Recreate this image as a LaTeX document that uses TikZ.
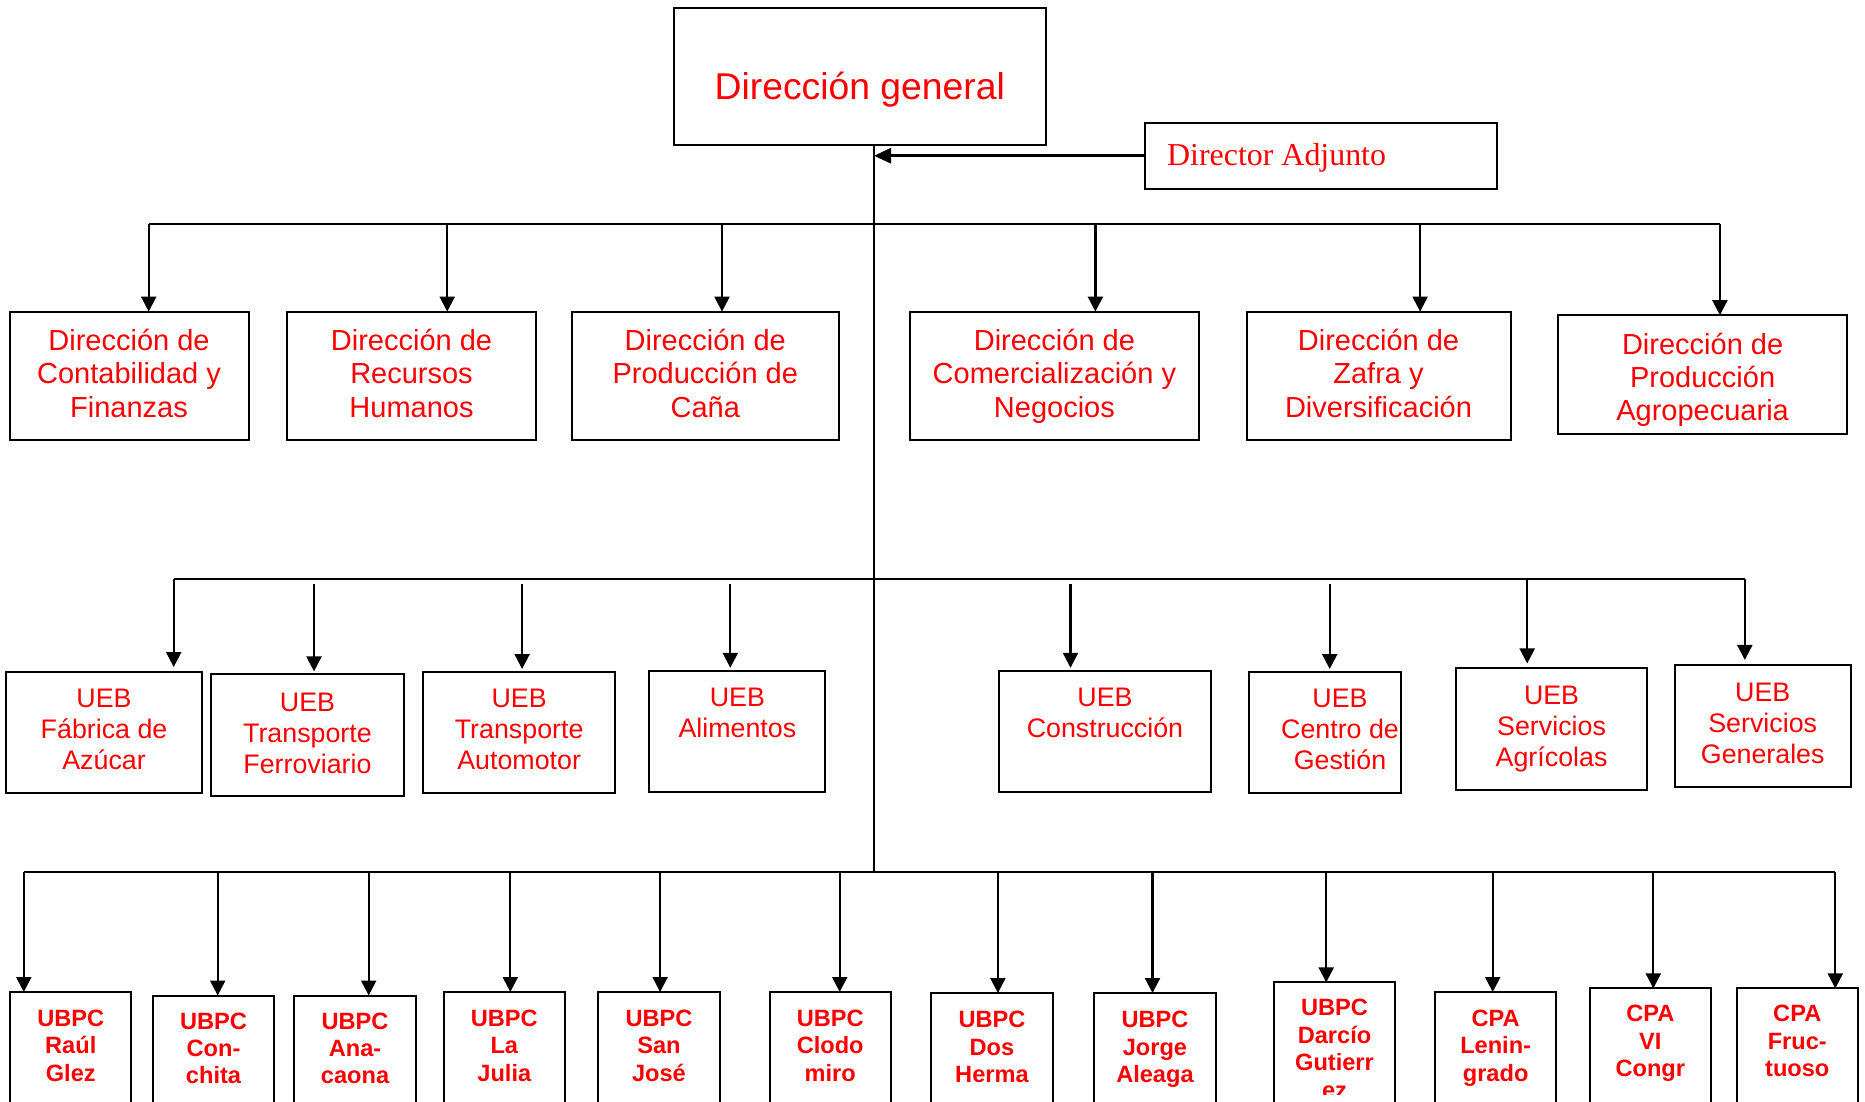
\documentclass[tikz,border=0pt]{standalone}
\usepackage{fontspec}
\setmainfont{Liberation Sans}
\newfontfamily\serifDA{Liberation Serif}
\usetikzlibrary{arrows.meta,calc}
\definecolor{txtred}{RGB}{255,0,0}
\begin{document}
\begin{tikzpicture}[x=1pt,y=-1pt,
  boxs/.style={draw=black,line width=2pt,inner sep=0pt,outer sep=0pt},
  t0/.style={text=txtred,font=\fontsize{37.3}{43}\selectfont,inner sep=0pt,anchor=base},
  t1/.style={text=txtred,font=\fontsize{29}{33.4}\selectfont,align=center,inner sep=0pt,anchor=base},
  t2/.style={text=txtred,font=\fontsize{26.8}{31}\selectfont,align=center,inner sep=0pt,anchor=base},
  t3/.style={text=txtred,font=\bfseries\fontsize{23.6}{27.4}\selectfont,align=center,inner sep=0pt,anchor=base},
  conn/.style={line width=2.2pt},
  arr/.style={line width=2.2pt,-{Triangle[length=15pt,width=15pt]}},
]
\useasboundingbox (0,0) rectangle (1865,1101);
\clip (0,0) rectangle (1865,1101);

% top
\node[boxs,minimum width=371.5pt,minimum height=136.7pt] (dg) at (859.75,76.65) {};
\node[t0] (dgt) at (859.75,99) {Dirección general};
\node[boxs,minimum width=352pt,minimum height=66.5pt] (da) at (1321,155.75) {};
\node[text=txtred,font=\serifDA\fontsize{31.9}{36}\selectfont,inner sep=0pt,anchor=base west] (dat) at (1167,165) {Director Adjunto};

% row 1 (text anchored at baseline of last line)
\node[boxs,minimum width=239.1pt,minimum height=128.4pt] (d1) at (129.05,375.8) {};
\node[boxs,minimum width=249.8pt,minimum height=128.4pt] (d2) at (411.5,375.8) {};
\node[boxs,minimum width=266.4pt,minimum height=128.4pt] (d3) at (705.3,375.8) {};
\node[boxs,minimum width=289pt,minimum height=128.4pt] (d4) at (1054.4,375.8) {};
\node[boxs,minimum width=264pt,minimum height=128.4pt] (d5) at (1378.5,375.8) {};
\node[boxs,minimum width=289pt,minimum height=118.9pt] (d6) at (1702.6,374.65) {};
\node[t1] (d1t) at (129.05,417.2) {Dirección de\\Contabilidad y\\Finanzas};
\node[t1] (d2t) at (411.5,417.2) {Dirección de\\Recursos\\Humanos};
\node[t1] (d3t) at (705.3,417.2) {Dirección de\\Producción de\\Caña};
\node[t1] (d4t) at (1054.4,417.2) {Dirección de\\Comercialización y\\Negocios};
\node[t1] (d5t) at (1378.5,417.2) {Dirección de\\Zafra y\\Diversificación};
\node[t1] (d6t) at (1702.6,420.9) {Dirección de\\Producción\\Agropecuaria};

% row 2
\node[boxs,minimum width=196.3pt,minimum height=121.3pt] (u1) at (104.05,732.65) {};
\node[boxs,minimum width=193.9pt,minimum height=121.3pt] (u2) at (307.45,735.05) {};
\node[boxs,minimum width=191.5pt,minimum height=121.3pt] (u3) at (519.15,732.65) {};
\node[boxs,minimum width=176pt,minimum height=121.3pt] (u4) at (737.4,731.45) {};
\node[boxs,minimum width=211.7pt,minimum height=121.3pt] (u5) at (1104.95,731.45) {};
\node[boxs,minimum width=152.2pt,minimum height=121.3pt] (u6) at (1325,732.65) {};
\node[boxs,minimum width=191.5pt,minimum height=121.3pt] (u7) at (1551.55,729.1) {};
\node[boxs,minimum width=176pt,minimum height=122.5pt] (u8) at (1762.7,726.15) {};
\node[t2] (u1t) at (104.05,769.8) {UEB\\Fábrica de\\Azúcar};
\node[t2] (u2t) at (307.45,773.3) {UEB\\Transporte\\Ferroviario};
\node[t2] (u3t) at (519.15,769.8) {UEB\\Transporte\\Automotor};
\node[t2] (u4t) at (737.4,737.6) {UEB\\Alimentos};
\node[t2] (u5t) at (1104.95,737.6) {UEB\\Construcción};
\node[t2] (u6t) at (1340,769.8) {UEB\\Centro de\\Gestión};
\node[t2] (u7t) at (1551.55,766.2) {UEB\\Servicios\\Agrícolas};
\node[t2] (u8t) at (1762.7,763.8) {UEB\\Servicios\\Generales};

% row 3
\foreach \n/\cx/\top in {p1/70.75/992, p2/213.5/995.5, p3/355.05/995.5, p4/504.3/992, p5/658.95/992, p6/830.2/992, p7/991.95/993, p8/1154.95/993, p9/1334.5/982.4, p10/1495.65/992, p11/1650.3/988.4, p12/1797.25/988.4}{
  \node[boxs,minimum width=121.3pt,minimum height={1150pt-\top pt}] (\n) at (\cx,{(\top+1150)/2}) {};
}
\node[t3] (p1t) at (70.75,1081.3) {UBPC\\Raúl\\Glez};
\node[t3] (p2t) at (213.5,1083.8) {UBPC\\Con-\\chita};
\node[t3] (p3t) at (355.05,1083.8) {UBPC\\Ana-\\caona};
\node[t3] (p4t) at (504.3,1081.3) {UBPC\\La\\Julia};
\node[t3] (p5t) at (658.95,1081.3) {UBPC\\San\\José};
\node[t3] (p6t) at (830.2,1081.3) {UBPC\\Clodo\\miro};
\node[t3] (p7t) at (991.95,1082.5) {UBPC\\Dos\\Herma};
\node[t3] (p8t) at (1154.95,1082.5) {UBPC\\Jorge\\Aleaga};
\begin{scope}
\clip (1273.8,982) rectangle (1395.2,1094);
\node[t3] (p9t) at (1334.5,1098.1) {UBPC\\Darcío\\Gutierr\\ez};
\end{scope}
\node[t3] (p10t) at (1495.65,1081.3) {CPA\\Lenin-\\grado};
\node[t3] (p11t) at (1650.3,1076.7) {CPA\\VI\\Congr};
\node[t3] (p12t) at (1797.25,1076.7) {CPA\\Fruc-\\tuoso};

% spine and adjunct
\coordinate (sp) at (874,871.8);
\draw[line width=2pt] (dg.south -| sp) -- (sp);
\draw[line width=3pt,-{Triangle[length=17pt,width=15pt]}] (da.west) -- (da.west -| sp);

% bus 1
\foreach \n/\x in {a1/148.7,a2/447.2,a3/722,a4/1095.4,a5/1420.1,a6/1719.9}{\coordinate (\n) at (\x,223.6);}
\draw[conn] (a1) -- (a6);
\foreach \c/\n in {a1/d1,a2/d2,a3/d3,a4/d4,a5/d5,a6/d6}{\draw[arr] (\c) -- (\c |- \n.north);}

% bus 2
\foreach \n/\x in {e1/173.7,e2/314,e3/522.1,e4/730.3,e5/1070.5,e6/1329.7,e7/1527.2,e8/1744.8}{\coordinate (\n) at (\x,579.2);}
\draw[conn] (e1) -- (e8);
\foreach \c/\n in {e1/u1,e7/u7,e8/u8}{\draw[arr] (\c) -- ($(\c |- \n.north)+(0,-5)$);}
\foreach \c/\n in {e2/u2,e3/u3,e4/u4,e5/u5,e6/u6}{\draw[arr] ($(\c)+(0,5)$) -- ($(\c |- \n.north)+(0,-3)$);}

% bus 3
\foreach \n/\x in {f1/23.8,f2/217.7,f3/368.7,f4/510.3,f5/660.1,f6/839.7,f7/997.9,f8/1152.5,f9/1326.2,f10/1492.7,f11/1653.3,f12/1835.3}{\coordinate (\n) at (\x,871.8);}
\draw[conn] (f1) -- (f12);
\foreach \c/\n in {f1/p1,f2/p2,f3/p3,f4/p4,f5/p5,f6/p6,f7/p7,f8/p8,f9/p9,f10/p10,f11/p11,f12/p12}{\draw[arr] (\c) -- (\c |- \n.north);}
\end{tikzpicture}
\end{document}
